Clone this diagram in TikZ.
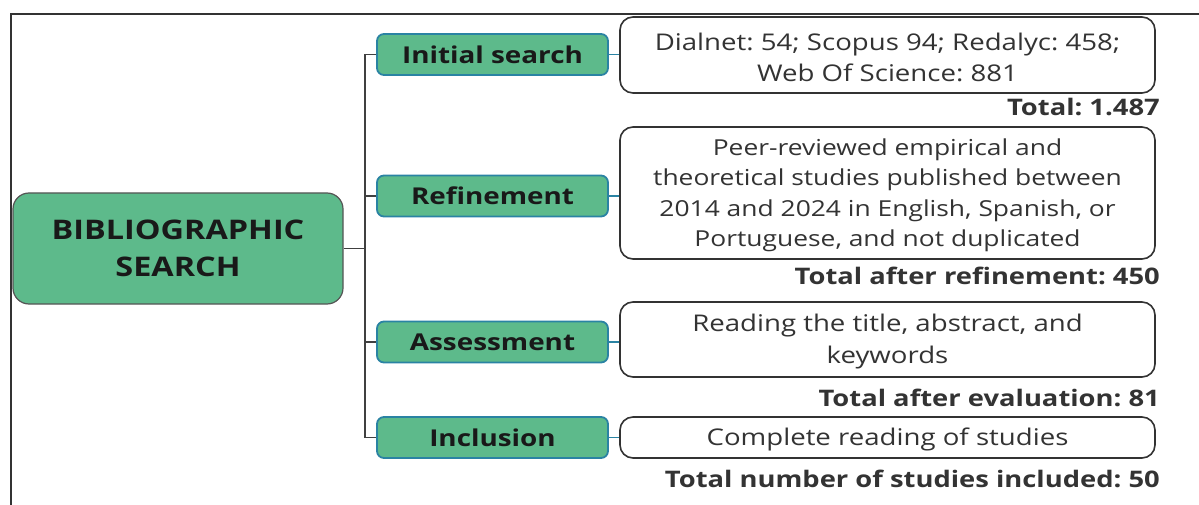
\documentclass[tikz,border=0pt]{standalone}
\usepackage{fontspec}
\setmainfont{Open Sans}[FakeStretch=1.2]
\frenchspacing
\definecolor{gfill}{HTML}{5DBA8B}
\definecolor{tealb}{HTML}{2A83A3}
\definecolor{graybd}{HTML}{555555}
\definecolor{txt}{HTML}{333333}
\newcommand\myup[1]{\rule{0pt}{#1}}
\begin{document}
\begin{tikzpicture}[x=1pt,y=-1pt,
  mainbox/.style={draw=graybd, line width=1.2pt, fill=gfill, rounded corners=16pt,
     minimum width=330pt, minimum height=111pt, align=center, inner sep=0pt,
     font=\fontsize{27}{37}\selectfont\bfseries, text=black!90},
  stepbox/.style={draw=tealb, line width=1.8pt, fill=gfill, rounded corners=7pt,
     minimum width=231pt, minimum height=41pt, inner sep=0pt,
     font=\fontsize{23.2}{30}\selectfont\bfseries, text=black!90},
  infobox/.style={draw=txt, line width=1.6pt, fill=white, rounded corners=13pt,
     minimum width=535pt, align=center, inner sep=0pt, text=txt,
     font=\fontsize{23}{31.5}\selectfont},
  infosmall/.style={infobox, font=\fontsize{22}{30.5}\selectfont},
  total/.style={anchor=base east, inner sep=0pt, text=txt,
     font=\fontsize{22.8}{28}\selectfont\bfseries},
  trunk/.style={draw=black!75, line width=1.6pt},
  link/.style={draw=tealb, line width=1.6pt}]
\useasboundingbox (0,0) rectangle (1199,505);
% frame
\draw[line width=1.8pt, black!80] (10,14) -- (1199,14);
\draw[line width=1.8pt, black!80] (11,14) -- (11,505);
% nodes
\node[mainbox] (main) at (178,248.5) {BIBLIOGRAPHIC\\SEARCH};
\node[stepbox] (s1) at (492.5,54.5) {Initial search};
\node[stepbox] (s2) at (492.5,196) {Refinement};
\node[stepbox] (s3) at (492.5,342) {Assessment};
\node[stepbox] (s4) at (492.5,437.5) {Inclusion};
\node[infobox, minimum height=76pt] (b1) at (887.5,55) {\myup{22pt}Dialnet: 54; Scopus 94; Redalyc: 458;\\Web Of Science: 881};
\node[infosmall, minimum height=132pt] (b2) at (887.5,193) {\myup{21.5pt}Peer-reviewed empirical and\\theoretical studies published between\\2014 and 2024 in English, Spanish, or\\Portuguese, and not duplicated};
\node[infobox, minimum height=75pt] (b3) at (887.5,339.5) {\myup{22pt}Reading the title, abstract, and\\keywords};
\node[infobox, minimum height=41pt] (b4) at (887.5,437.5) {\myup{21.5pt}Complete reading of studies};
\node[total] (t1) at (1160,116) {Total: 1.487};
\node[total] (t2) at (1160,284) {Total after refinement: 450};
\node[total] (t3) at (1160,406) {Total after evaluation: 81};
\node[total] (t4) at (1160,487) {Total number of studies included: 50};
% connectors
\coordinate (tr) at (365,248.5);
\draw[trunk] (main.east) -- (tr);
\draw[trunk] (tr) |- (s1.west);
\draw[trunk] (tr) |- (s2.west);
\draw[trunk] (tr) |- (s3.west);
\draw[trunk] (tr) |- (s4.west);
\draw[link] (s1.east) -- (b1.west |- s1.east);
\draw[link] (s2.east) -- (b2.west |- s2.east);
\draw[link] (s3.east) -- (b3.west |- s3.east);
\draw[link] (s4.east) -- (b4.west);
\end{tikzpicture}
\end{document}
